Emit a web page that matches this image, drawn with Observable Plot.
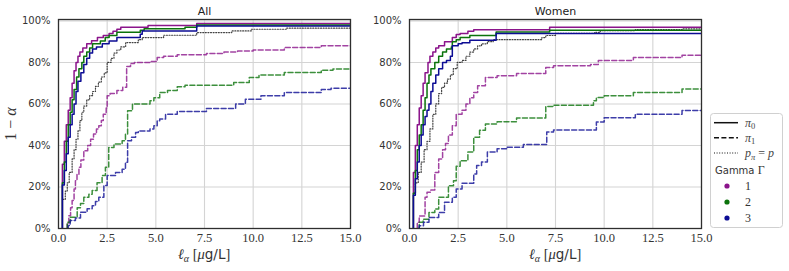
<!DOCTYPE html>
<html><head><meta charset="utf-8">
<script src="https://cdn.jsdelivr.net/npm/d3@7"></script>
<script src="https://cdn.jsdelivr.net/npm/@observablehq/plot@0.6"></script>
<style>
body{margin:0;background:#fff;}
#wrap{position:relative;width:789px;height:271px;overflow:hidden;background:#fff;}
#wrap > svg{position:absolute;top:0;background:transparent;}
</style></head><body><div id="wrap"></div>
<script>
// ---- tick values ----
const xTicks = [0, 2.5, 5, 7.5, 10, 12.5, 15];
const yTicks = [0, 20, 40, 60, 80, 100];
const panelTitles = ["All", "Women"];
const gammas = [1, 2, 3];

// ---- panel "All": [x (µg/L), 1-alpha (%)] step points ----
const allPi0G1 = [[0.2,0],[0.2,31],[0.3,42],[0.4,50],[0.5,57],[0.6,63],[0.7,70],[0.8,76],[0.9,80],[1.0,83],[1.1,85],[1.25,87],[1.45,89],[1.7,90.5],[2.0,92],[2.3,93],[2.6,94],[2.8,95],[3.0,96],[3.2,97],[4.6,97.8],[7.1,98.8],[15,98.8]];
const allPi0G2 = [[0.2,0],[0.2,22],[0.3,32],[0.4,42],[0.5,50],[0.6,56],[0.7,62],[0.8,67],[0.93,73],[1.05,77],[1.2,80],[1.3,83],[1.45,85],[1.6,87],[1.75,89],[2.15,90.4],[2.4,92],[2.6,93],[3.0,94.5],[4.2,95.5],[4.4,96.3],[6.5,97],[7.1,98],[15,98]];
const allPi0G3 = [[0.2,0],[0.2,21],[0.3,28],[0.4,36],[0.5,44],[0.6,50],[0.7,55],[0.8,60],[0.9,66],[1.0,71],[1.15,75],[1.3,79],[1.45,82],[1.6,84.5],[1.75,86.5],[1.95,87.5],[2.25,89],[2.6,90.4],[3.0,92],[4.2,93.6],[4.3,95.2],[7.1,97.6],[15,97.6]];
const allPx = [[0.22,14],[0.35,18],[0.45,22],[0.55,27],[0.7,33.5],[0.8,38],[0.9,43],[1.0,47],[1.1,52],[1.2,56],[1.3,59],[1.45,62],[1.6,64],[1.75,66],[1.9,68.5],[2.05,70.5],[2.2,73],[2.35,75],[2.5,80],[2.7,82],[2.85,84.5],[3.0,86],[3.2,87.5],[3.45,89.6],[4.1,91],[4.3,92],[5.4,93.1],[7.1,94.4],[8.9,95.2],[9.9,96],[11.7,96.5],[15,96.7]];
const allPi1G1 = [[0.42,0],[0.45,2.2],[0.53,6.2],[0.62,10],[0.7,13.5],[0.8,19],[0.87,23],[0.95,26],[1.05,29.5],[1.15,33],[1.3,37.5],[1.5,40],[1.65,43],[1.8,45.5],[1.95,48],[2.07,49.5],[2.2,52],[2.3,55],[2.45,58],[2.5,64],[2.65,65],[3.0,66.5],[3.3,68],[3.5,78],[3.7,79.5],[3.9,80],[4.7,80.5],[5.07,82.4],[5.4,83],[6.1,83.7],[7.6,84.3],[8.5,85],[9.2,85.5],[10,86],[11.6,87.2],[13.5,88],[15,88]];
const allPi1G2 = [[0.42,0],[0.45,3],[0.6,5.4],[0.96,10],[1.13,12],[1.3,15],[1.56,16.5],[1.73,18.3],[1.98,22],[2.24,25.5],[2.41,29.5],[2.58,39],[2.85,40.7],[3.27,42.3],[3.44,45.5],[3.55,56.7],[3.8,60],[4.7,61.5],[4.9,63],[5.2,65.5],[5.6,66.5],[6.1,68.3],[6.5,69],[9.0,70.3],[9.8,72.8],[10.3,74],[11.6,75.2],[13.5,76.3],[14.1,76.8],[15,76.8]];
const allPi1G3 = [[0.45,0],[0.5,1.4],[0.6,3.8],[0.87,5],[1.13,7.8],[1.47,9.5],[1.73,11],[1.9,13],[2.07,15],[2.33,20.7],[2.5,25.5],[2.93,27],[3.27,28.5],[3.44,31.9],[3.55,42.3],[3.75,44],[3.96,46.3],[4.1,47],[4.7,48],[4.9,49.5],[5.07,51.9],[5.2,52.7],[5.5,55],[6.1,56.4],[7.6,57.8],[9.1,60],[9.6,62.3],[10.4,64],[11.6,65.5],[13.5,67],[14.0,67.6],[15,67.6]];

// ---- panel "Women" ----
const womPi0G1 = [[0.2,0],[0.2,27],[0.3,40],[0.4,50],[0.5,58],[0.6,64],[0.7,70],[0.8,75],[0.95,80],[1.05,83],[1.2,85],[1.35,87],[1.5,88],[1.8,90],[2.2,92],[2.4,93.5],[2.6,94],[3.0,95],[3.3,95.8],[7.2,97],[15,97]];
const womPi0G2 = [[0.2,0],[0.2,17],[0.3,28],[0.4,38],[0.5,45],[0.6,50],[0.7,57],[0.8,63],[0.9,70],[1.0,74],[1.1,77],[1.3,80],[1.5,83],[1.7,85],[1.9,86.5],[2.15,87.5],[2.2,90],[2.4,91],[2.6,92],[3.1,93],[4.45,94.7],[7.2,95.5],[15,95.5]];
const womPi0G3 = [[0.2,0],[0.2,16],[0.3,24],[0.4,32],[0.5,40],[0.6,45],[0.7,50],[0.8,54],[0.9,57],[1.0,60],[1.1,66],[1.2,70],[1.35,74],[1.5,77],[1.7,80],[1.9,81],[2.1,83],[2.2,88],[2.5,89],[2.7,89.5],[3.1,90.7],[4.45,94],[15,94]];
const womPx = [[0.2,17],[0.3,22],[0.45,27],[0.6,32],[0.75,38],[0.9,42],[1.05,48],[1.2,55],[1.35,60],[1.5,65],[1.65,68],[1.8,70],[1.95,72],[2.1,74],[2.25,77],[2.45,80],[2.7,81],[2.9,83],[3.1,85],[3.3,86.5],[3.5,88],[3.7,89],[4.0,90],[4.3,91],[6.8,92],[7.0,93],[7.5,94],[9.5,94.5],[9.8,95.3],[11.6,95.8],[14,96.2],[15,96.2]];
const womPi1G1 = [[0.4,0],[0.4,3],[0.5,6],[0.8,15],[0.9,17.5],[1.1,18.5],[1.3,27],[1.5,33.5],[1.7,38],[1.85,41],[2.0,45],[2.2,49.5],[2.4,55],[2.7,57],[2.9,60],[3.1,63],[3.3,65.5],[3.5,68.8],[3.9,72.8],[4.5,73.6],[5.5,74.7],[7.0,77.6],[7.4,78.4],[9.3,79],[9.7,81],[11.5,82.4],[14,83.5],[15,83.5]];
const womPi1G2 = [[0.45,0],[0.5,3],[0.7,4.5],[1.0,7.7],[1.3,9.4],[1.5,15],[2.0,20.6],[2.26,23],[2.4,30],[2.6,32.7],[3.0,36.8],[3.3,44],[3.6,47.3],[3.9,50.3],[4.5,51.4],[5.5,53.2],[7.0,58.8],[7.4,59.4],[9.45,61.5],[9.6,63.1],[10.0,64],[11.5,65.5],[14,67.2],[15,67.2]];
const womPi1G3 = [[0.46,0],[0.5,1.3],[0.72,3],[1.0,5.3],[1.5,7.7],[1.8,12.6],[2.2,15],[2.4,19],[2.7,21.8],[3.3,26.3],[3.45,30.3],[3.7,32],[4.0,36.8],[4.5,38.4],[5.0,39.2],[5.85,40.5],[7.05,46.5],[7.4,47.4],[9.6,51.3],[10.0,53.4],[11.6,55.1],[14.0,56.8],[15,56.8]];

// ---- styling ----
const colors = {1: "#8b148b", 2: "#0b730b", 3: "#0c0c94"};
const SANS = "DejaVu Sans";
const SERIF = "Liberation Serif";

const panels = [
  {title: panelTitles[0], left: 0,   pi0: [allPi0G1, allPi0G2, allPi0G3], pi1: [allPi1G1, allPi1G2, allPi1G3], px: allPx},
  {title: panelTitles[1], left: 351, pi0: [womPi0G1, womPi0G2, womPi0G3], pi1: [womPi1G1, womPi1G2, womPi1G3], px: womPx}
];

const wrap = document.getElementById("wrap");
const X = d => d[0], Y = d => d[1];

for (const p of panels) {
  const marks = [
    Plot.gridX(xTicks, {stroke: "#d4d4d4", strokeOpacity: 1, strokeWidth: 1.1}),
    Plot.gridY(yTicks, {stroke: "#d4d4d4", strokeOpacity: 1, strokeWidth: 1.1}),
  ];
  gammas.forEach((g, i) => {
    marks.push(Plot.line(p.pi1[i], {x: X, y: Y, curve: "step-after", stroke: colors[g], strokeWidth: 1.5, strokeOpacity: 0.8, strokeDasharray: "5,2.4", clip: true}));
  });
  marks.push(Plot.line(p.px, {x: X, y: Y, curve: "step-after", stroke: "#222", strokeWidth: 1.2, strokeOpacity: 0.85, strokeDasharray: "1,1.6", clip: true}));
  gammas.forEach((g, i) => {
    marks.push(Plot.line(p.pi0[i], {x: X, y: Y, curve: "step-after", stroke: colors[g], strokeWidth: 1.5, clip: true}));
  });
  marks.push(Plot.frame({stroke: "#2e2e2e", strokeWidth: 1.3}));
  marks.push(Plot.axisX(xTicks, {tickSize: 0, tickPadding: 5, tickFormat: d => d.toFixed(1), fontFamily: SERIF, fontSize: 12.5, fill: "#333", label: null}));
  marks.push(Plot.axisY(yTicks, {tickSize: 0, tickPadding: 8, tickFormat: d => d + "%", fontFamily: SANS, fontSize: 10, fill: "#333", label: null}));
  marks.push(Plot.text([p.title], {text: d => d, frameAnchor: "top", lineAnchor: "bottom", dy: -5, fontFamily: SANS, fontSize: 11, fill: "#222"}));

  const svg = Plot.plot({
    width: 360, height: 271,
    marginLeft: 58, marginRight: 10, marginTop: 19, marginBottom: 43,
    x: {domain: [0, 15]},
    y: {domain: [0, 100.7]},
    style: {background: "transparent", overflow: "visible"},
    marks
  });
  svg.style.left = p.left + "px";
  wrap.appendChild(svg);
}

// ---- overlay: axis labels & legend ----
const ns = "http://www.w3.org/2000/svg";
const ov = document.createElementNS(ns, "svg");
ov.setAttribute("width", 789); ov.setAttribute("height", 271);
ov.style.left = "0px";
let html = "";
// x labels
for (const cx of [204, 555]) {
  html += `<text x="${cx}" y="259" text-anchor="middle" font-size="14.5" fill="#333" font-family="${SERIF}"><tspan font-style="italic">ℓ</tspan><tspan font-style="italic" font-size="10" dy="3">α</tspan><tspan dy="-3"> [</tspan><tspan font-style="italic">μ</tspan><tspan font-family="${SANS}" font-size="13.5">g/L</tspan>]</text>`;
}
// y label
html += `<text transform="translate(16,124) rotate(-90)" text-anchor="middle" font-size="16" fill="#333" font-family="${SERIF}">1 − <tspan font-style="italic">α</tspan></text>`;
// legend box
html += `<rect x="710.5" y="113.5" width="72" height="114" rx="3" fill="#fff" stroke="#d0d0d0" stroke-width="1"/>`;
html += `<line x1="714" x2="738" y1="122.7" y2="122.7" stroke="#111" stroke-width="1.5"/>`;
html += `<line x1="714" x2="738" y1="137.7" y2="137.7" stroke="#111" stroke-width="1.5" stroke-dasharray="5,2.4"/>`;
html += `<line x1="714" x2="738" y1="153" y2="153" stroke="#111" stroke-width="1.2" stroke-dasharray="1,1.6"/>`;
html += `<text x="745" y="126.5" font-size="12" fill="#444" font-family="${SERIF}" font-style="italic">π<tspan font-size="8.5" dy="2.5" font-style="normal">0</tspan></text>`;
html += `<text x="745" y="141.5" font-size="12" fill="#444" font-family="${SERIF}" font-style="italic">π<tspan font-size="8.5" dy="2.5" font-style="normal">1</tspan></text>`;
html += `<text x="745" y="157" font-size="12" fill="#444" font-family="${SERIF}" font-style="italic">p<tspan font-size="8.5" dy="2.5">π</tspan><tspan dy="-2.5" font-style="normal"> = </tspan>p</text>`;
html += `<text x="715" y="174" font-size="10" fill="#333" font-family="${SANS}">Gamma <tspan font-family="${SERIF}" font-size="12">Γ</tspan></text>`;
gammas.forEach((g, i) => {
  const cy = 186 + i * 16;
  html += `<circle cx="727" cy="${cy}" r="2.6" fill="${colors[g]}"/>`;
  html += `<text x="745" y="${cy + 4}" font-size="12" fill="#333" font-family="${SERIF}">${g}</text>`;
});
ov.innerHTML = html;
wrap.appendChild(ov);
</script></body></html>
